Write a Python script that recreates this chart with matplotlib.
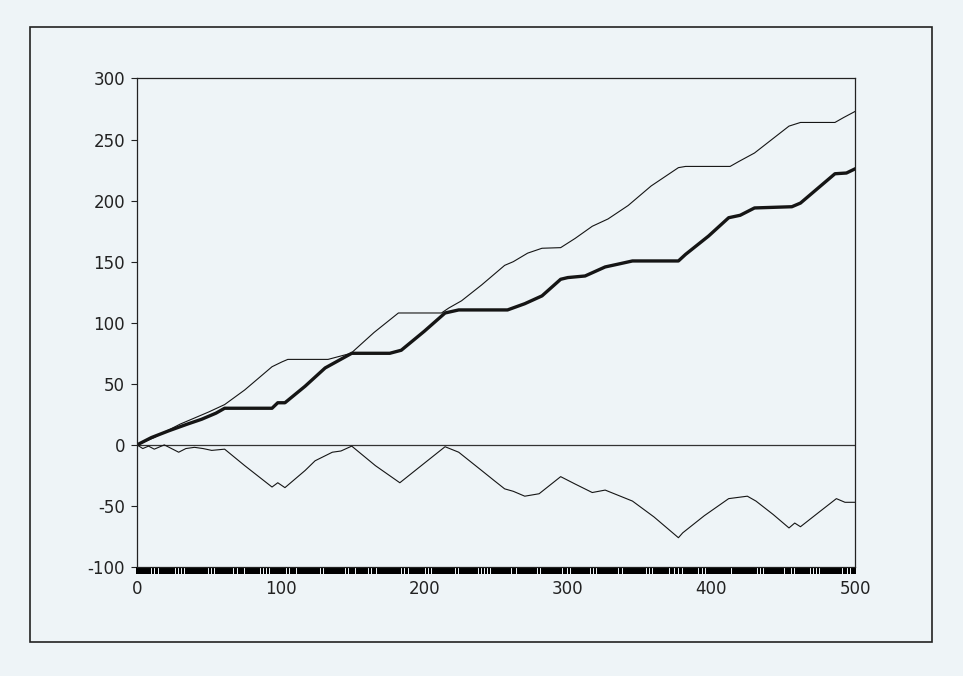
import matplotlib
matplotlib.use("Agg")
import matplotlib.pyplot as plt
import matplotlib.transforms as mtransforms
from matplotlib.patches import Rectangle

plt.rcParams["axes.unicode_minus"] = False

# upper thin curve
thin_x = [0, 12, 20, 30, 40, 50, 61, 75, 94, 101, 105, 133, 149, 165, 182, 212, 217, 226,
          240, 256, 262, 272, 282, 295, 305, 317, 328, 342, 358, 377, 382, 413, 419, 430,
          442, 454, 462, 486, 492, 500]
thin_y = [0, 6, 11, 17, 22, 27, 33, 45, 64, 68, 70, 70, 75, 92, 108, 108, 112, 118,
          131, 147, 150, 157, 161, 161.5, 169, 179, 185, 196, 212, 227, 228, 228, 232, 239,
          250, 261, 264, 264, 268, 273]

# thick curve
thick_x = [0, 10, 22, 35, 45, 55, 61, 94, 98, 103, 117, 131, 149.5, 176, 184, 200, 214.5,
           224, 258, 270, 282, 295, 300, 312, 326, 335, 345, 377, 382, 398, 412, 420, 430,
           456, 462, 474, 486, 494, 500]
thick_y = [0, 6, 11.5, 17, 21, 26, 30, 30, 34.5, 34.5, 48, 63, 75, 75, 77.5, 93, 108,
           110.5, 110.5, 115.6, 122, 135.6, 137, 138.3, 145.7, 148, 150.6, 150.6, 156, 171,
           186, 188, 194, 195, 198, 210, 222, 222.6, 226]

# lower curve (below zero)
low_x = [0, 4, 8, 12, 19, 24, 29, 34, 40, 46, 52, 61, 75, 94, 98, 103, 117, 124, 136, 142,
         149.5, 166, 183, 199, 214.5, 224, 240, 249, 256, 262, 270, 280, 295, 305, 317, 326,
         345, 360, 377, 380, 395, 412, 425, 431, 443, 454, 458, 462, 475, 487, 493, 500]
low_y = [0, -3, -1, -3.5, 0, -3, -6, -3, -2, -3, -4.5, -3.5, -17, -34.5, -31, -35, -21,
         -13, -6, -5, -1, -17, -31, -16, -1.5, -6, -21, -29.5, -36, -38, -42, -40, -26, -32,
         -39, -37, -46, -59, -76, -72, -58, -44, -42, -46, -57, -68, -64, -67, -55, -44, -47,
         -47]

# positions along the bottom rug that are left blank
rug_gaps = [10, 12, 15, 27, 29, 31, 33, 50, 52, 54, 67, 70, 75, 86, 88, 90, 92, 104, 106,
            111, 126, 128, 130, 145, 147, 152, 161, 163, 167, 184, 186, 189, 201, 203, 205,
            220, 222, 224, 227, 238, 240, 242, 244, 246, 259, 261, 264, 279, 281, 296, 298,
            300, 302, 316, 318, 320, 335, 338, 355, 357, 359, 371, 374, 377, 380, 391, 394,
            396, 399, 414, 432, 434, 436, 451, 454, 456, 458, 469, 471, 473, 475, 491, 493,
            495, 497]
rug_marks = [i for i in range(501) if i not in rug_gaps]

x_ticks = [0, 100, 200, 300, 400, 500]
y_ticks = [-100, -50, 0, 50, 100, 150, 200, 250, 300]

bg = "#eef4f7"
ink = "#151515"

fig = plt.figure(figsize=(9.63, 6.76), dpi=100)
fig.patch.set_facecolor(bg)

# frame around the whole figure
fig.patches.append(Rectangle((0.031, 0.050), 0.937, 0.910, transform=fig.transFigure,
                             fill=False, edgecolor="#222222", linewidth=1.2))

ax = fig.add_axes([0.1423, 0.1612, 0.7456, 0.7227])
ax.set_facecolor(bg)

ax.axhline(0, color="#333333", linewidth=0.9)
ax.plot(thin_x, thin_y, color=ink, linewidth=0.8)
ax.plot(thick_x, thick_y, color=ink, linewidth=2.4)
ax.plot(low_x, low_y, color=ink, linewidth=0.8)

# rug hanging below the bottom axis line
trans = mtransforms.blended_transform_factory(ax.transData, ax.transAxes)
ax.vlines(rug_marks, -0.015, 0, transform=trans, colors="black", linewidth=1.25,
          antialiased=False, clip_on=False)

ax.set_xlim(0, 500)
ax.set_ylim(-100, 300)
ax.set_xticks(x_ticks)
ax.set_yticks(y_ticks)
ax.tick_params(axis="x", length=0, pad=9, labelsize=12, colors="#222222")
ax.tick_params(axis="y", length=4.5, width=0.8, pad=4, labelsize=12, colors="#222222")
for s in ax.spines.values():
    s.set_color("#222222")
    s.set_linewidth(0.9)

fig.savefig("out.png", dpi=100, facecolor=bg)
